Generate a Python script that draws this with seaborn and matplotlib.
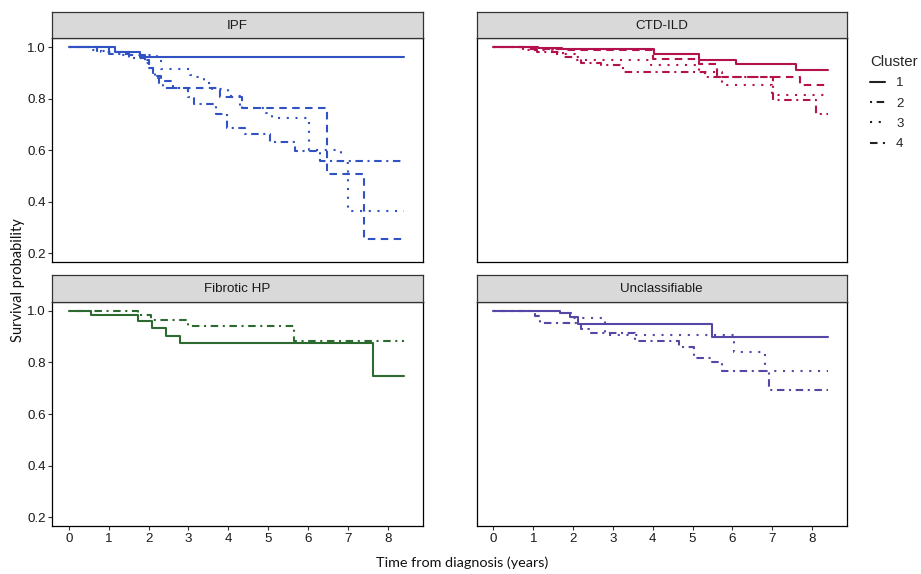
import matplotlib
matplotlib.use("Agg")
import matplotlib.pyplot as plt
from matplotlib.lines import Line2D
import seaborn as sns
import pandas as pd

# ---------------- data ----------------
PANELS = ["IPF", "CTD-ILD", "Fibrotic HP", "Unclassifiable"]
COLORS = ["#3152C3", "#B3124C", "#2D6A2F", "#5646A6"]
CLUSTERS = ["1", "2", "3", "4"]
END_T = 8.4  # last follow-up time (years)

IPF_T1 = [0, 1.16, 1.78]
IPF_S1 = [1.0, 0.983, 0.962]
IPF_T2 = [0, 0.7, 1.0, 1.5, 1.9, 2.0, 2.1, 2.15, 2.25, 2.35, 3.0, 3.15, 3.7, 3.96, 4.42, 5.05, 5.68, 6.30]
IPF_S2 = [1.0, 0.985, 0.975, 0.96, 0.94, 0.92, 0.90, 0.88, 0.86, 0.843, 0.807, 0.778, 0.743, 0.686, 0.663, 0.633, 0.597, 0.557]
IPF_T3 = [0, 0.55, 0.8, 1.3, 2.2, 2.3, 3.05, 3.2, 3.4, 3.6, 4.0, 4.3, 4.95, 5.1, 6.02, 6.82, 7.0]
IPF_S3 = [1.0, 0.99, 0.98, 0.97, 0.95, 0.914, 0.894, 0.885, 0.86, 0.84, 0.81, 0.765, 0.744, 0.724, 0.60, 0.55, 0.366]
IPF_T4 = [0, 1.0, 1.5, 1.9, 2.0, 2.1, 2.3, 2.6, 3.78, 4.35, 6.48, 7.41]
IPF_S4 = [1.0, 0.98, 0.97, 0.95, 0.92, 0.89, 0.87, 0.843, 0.807, 0.765, 0.507, 0.257]

CTD_T1 = [0, 1.12, 1.71, 4.02, 5.16, 6.09, 7.6]
CTD_S1 = [1.0, 0.997, 0.992, 0.975, 0.952, 0.934, 0.911]
CTD_T2 = [0, 0.75, 1.1, 1.75, 2.2, 2.7, 3.25, 5.3, 7.03, 8.1]
CTD_S2 = [1.0, 0.99, 0.982, 0.962, 0.939, 0.933, 0.904, 0.885, 0.795, 0.743]
CTD_T3 = [0, 0.9, 1.5, 2.05, 3.95, 5.15, 5.75, 7.0]
CTD_S3 = [1.0, 0.99, 0.975, 0.952, 0.933, 0.904, 0.855, 0.814]
CTD_T4 = [0, 0.9, 1.8, 4.0, 5.16, 5.62, 7.7]
CTD_S4 = [1.0, 0.995, 0.99, 0.955, 0.935, 0.885, 0.853]

HP_T1 = [0, 0.55, 1.73, 2.09, 2.44, 2.80, 7.62]
HP_S1 = [1.0, 0.982, 0.959, 0.933, 0.903, 0.875, 0.748]
HP_T2 = [0, 1.73, 2.06, 2.99, 5.64]
HP_S2 = [1.0, 0.982, 0.965, 0.939, 0.884]

UNC_T1 = [0, 1.67, 1.92, 2.13, 5.50]
UNC_S1 = [1.0, 0.99, 0.975, 0.95, 0.90]
UNC_T2 = [0, 1.04, 1.16, 2.21, 2.4, 3.56, 4.66, 5.03, 5.5, 5.75, 6.93]
UNC_S2 = [1.0, 0.98, 0.952, 0.93, 0.913, 0.881, 0.86, 0.817, 0.80, 0.765, 0.694]
UNC_T3 = [0, 1.71, 2.0, 2.8, 6.05, 6.81]
UNC_S3 = [1.0, 0.99, 0.972, 0.907, 0.842, 0.767]

X_TICKS = [0, 1, 2, 3, 4, 5, 6, 7, 8]
Y_TICKS = [0.2, 0.4, 0.6, 0.8, 1.0]
Y_TICK_LABELS = ["0.2", "0.4", "0.6", "0.8", "1.0"]

CURVES = {
    "IPF": [("1", IPF_T1, IPF_S1), ("2", IPF_T2, IPF_S2), ("3", IPF_T3, IPF_S3), ("4", IPF_T4, IPF_S4)],
    "CTD-ILD": [("1", CTD_T1, CTD_S1), ("2", CTD_T2, CTD_S2), ("3", CTD_T3, CTD_S3), ("4", CTD_T4, CTD_S4)],
    "Fibrotic HP": [("1", HP_T1, HP_S1), ("2", HP_T2, HP_S2)],
    "Unclassifiable": [("1", UNC_T1, UNC_S1), ("2", UNC_T2, UNC_S2), ("3", UNC_T3, UNC_S3)],
}

# ---------------- styling ----------------
sns.set_theme(style="white")
plt.rcParams["font.family"] = ["Liberation Sans", "DejaVu Sans"]

DASHES = {"1": "", "2": (1, 2.2, 3.6, 2.2), "3": (1, 3.2), "4": (3.6, 2.6)}
LW = 1.5
TICK_FS = 9.6

W, H = 921, 574
fig = plt.figure(figsize=(W / 100, H / 100), dpi=100)


def box(l, t, r, b):
    return [l / W, 1 - b / H, (r - l) / W, (b - t) / H]


COLS = [(52, 422.7), (476.7, 846.7)]
ROWS = [(12.3, 38.3, 262.4), (274.5, 301.7, 526.4)]
YLIM = (0.165, 1.035)
XLIM = (-0.42, 8.87)

for i, name in enumerate(PANELS):
    r, c = divmod(i, 2)
    l, rgt = COLS[c]
    st, pt, pb = ROWS[r]
    ax = fig.add_axes(box(l, pt, rgt, pb))
    rows = []
    for cl, ts, ss in CURVES[name]:
        for t, s in zip(ts + [END_T], ss + [ss[-1]]):
            rows.append({"time": t, "surv": s, "cluster": cl})
    df = pd.DataFrame(rows)
    present = [k for k in CLUSTERS if k in set(df["cluster"])]
    sns.lineplot(data=df, x="time", y="surv", style="cluster", style_order=present,
                 dashes={k: DASHES[k] for k in present}, color=COLORS[i],
                 drawstyle="steps-post", estimator=None, sort=True, lw=LW,
                 legend=False, ax=ax)
    ax.set_xlim(*XLIM)
    ax.set_ylim(*YLIM)
    ax.set_xlabel("")
    ax.set_ylabel("")
    ax.set_facecolor("white")
    for sp in ax.spines.values():
        sp.set_visible(True)
        sp.set_color("black")
        sp.set_linewidth(0.9)
    if c == 0:
        ax.set_yticks(Y_TICKS)
        ax.set_yticklabels(Y_TICK_LABELS)
    else:
        ax.set_yticks([])
    if r == 1:
        ax.set_xticks(X_TICKS)
        ax.set_xticklabels([str(v) for v in X_TICKS])
    else:
        ax.set_xticks([])
    ax.tick_params(axis="both", which="both", length=3, width=0.8, color="#333333",
                   labelsize=TICK_FS, labelcolor="#1a1a1a", pad=1.5,
                   left=(c == 0), bottom=(r == 1))
    # strip
    sax = fig.add_axes(box(l, st, rgt, pt))
    sax.set_facecolor("#D9D9D9")
    sax.set_xticks([])
    sax.set_yticks([])
    for sp in sax.spines.values():
        sp.set_visible(True)
        sp.set_color("#333333")
        sp.set_linewidth(0.9)
    sax.text(0.5, 0.47, name, ha="center", va="center", fontsize=TICK_FS, color="#1a1a1a",
             transform=sax.transAxes)

# axis titles
fig.text(462 / W, 1 - 563 / H, "Time from diagnosis (years)", ha="center", va="center",
         fontsize=10.4, family=["Lato", "DejaVu Sans"], color="#111111")
fig.text(18 / W, 1 - 280 / H, "Survival probability", ha="center", va="center",
         rotation=90, fontsize=10.5, family=["Lato", "DejaVu Sans"], color="#111111")

# legend
handles = []
for k in CLUSTERS:
    hnd = Line2D([0], [0], color="#222222", lw=LW)
    if DASHES[k]:
        hnd.set_dashes(DASHES[k])
    handles.append(hnd)
leg = fig.legend(handles, CLUSTERS, title="Cluster", loc="upper left",
                 bbox_to_anchor=(858 / W, 1 - 43 / H), frameon=False, fontsize=TICK_FS,
                 title_fontsize=10.8, handlelength=1.15, handletextpad=0.8,
                 labelspacing=0.6, alignment="left")

fig.savefig("out.png", dpi=100, facecolor="white")
